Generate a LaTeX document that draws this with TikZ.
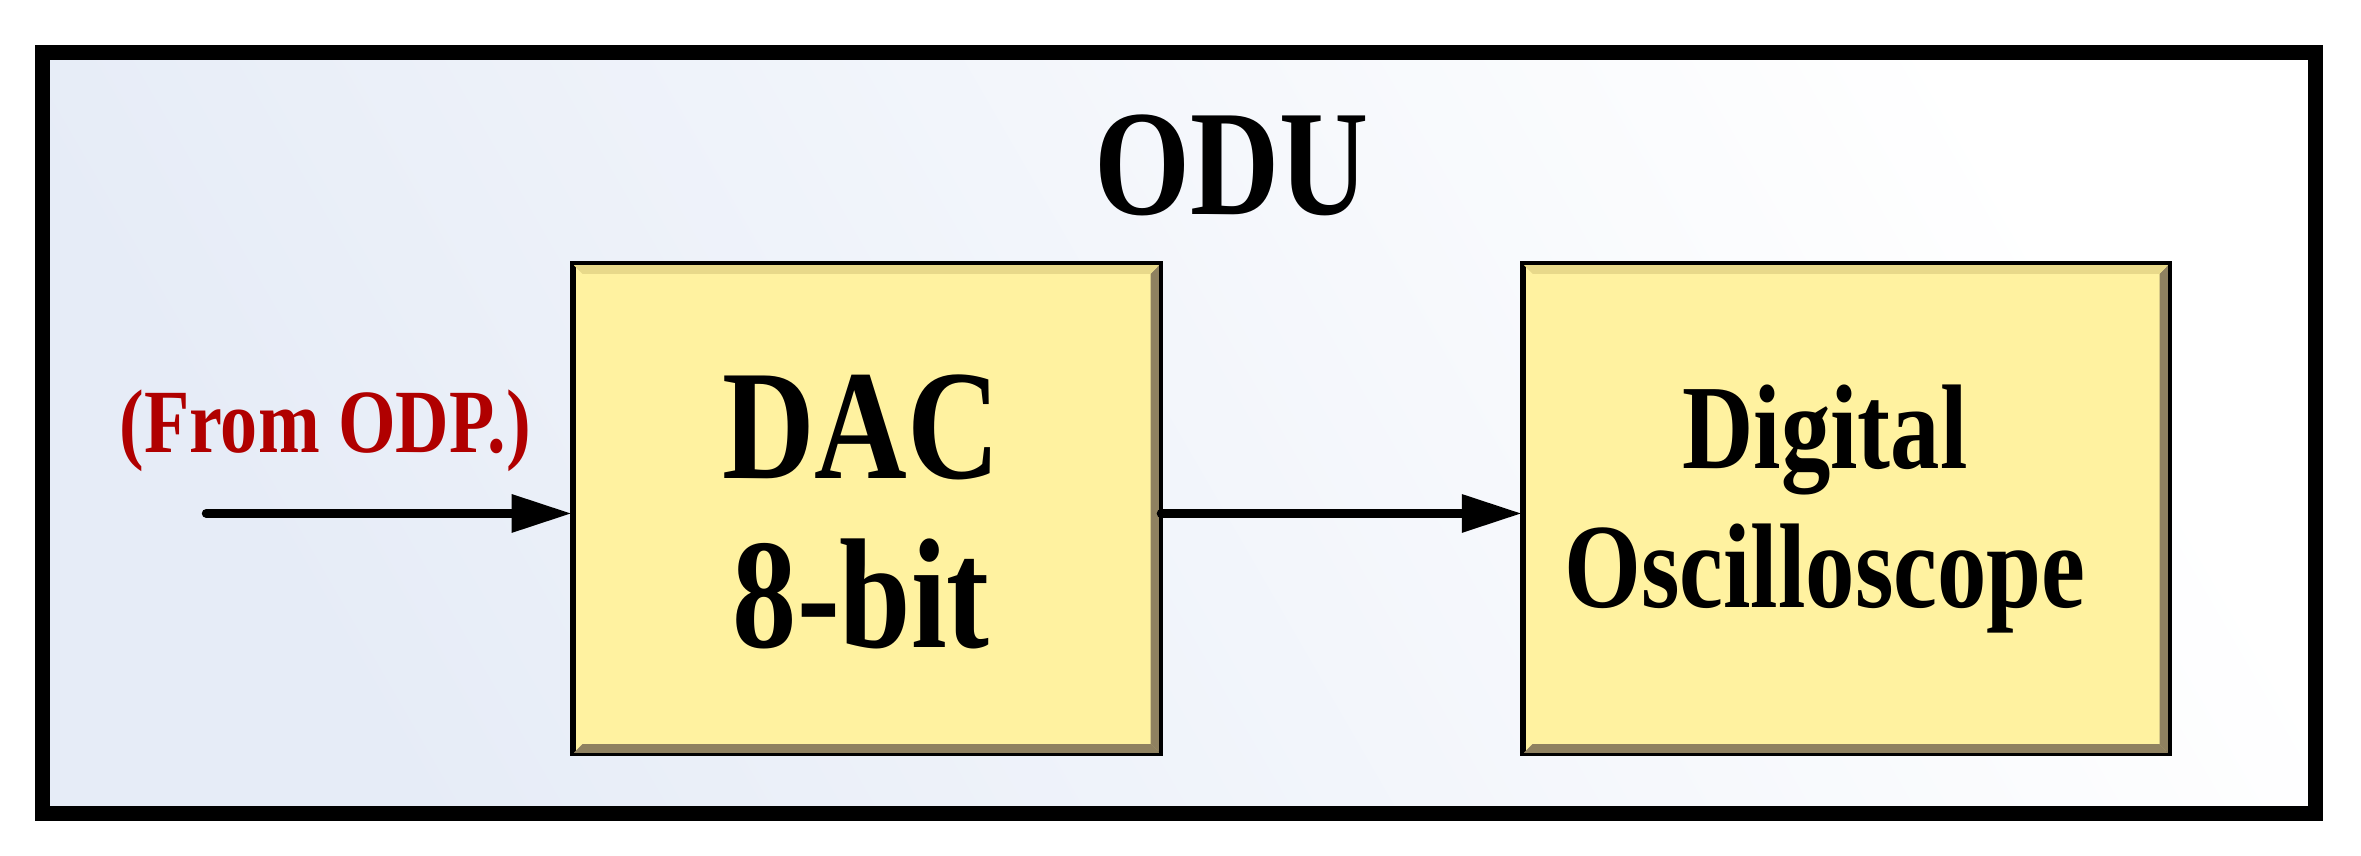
\documentclass[tikz,border=0pt]{standalone}
\usepackage{fontspec}
\setmainfont{Liberation Serif}[BoldFont={Liberation Serif Bold},FakeStretch=0.82]
\usetikzlibrary{arrows.meta}
\definecolor{boxfill}{HTML}{FFF2A0}
\definecolor{bevel}{HTML}{8F8160}
\definecolor{bevellt}{HTML}{E8D98A}
\definecolor{bgblue}{HTML}{E6ECF7}
\definecolor{odpred}{HTML}{B00000}
\tikzset{
  x=0.5pt,y=-0.5pt,
  blk/.style={draw=black,line width=1.2pt,fill=boxfill,inner sep=0pt},
  conn/.style={line width=3pt,line cap=round,-{Triangle[length=20pt,width=12pt]}},
  lbl/.style={font=\bfseries,align=center,inner sep=0pt}
}
\begin{document}
\begin{tikzpicture}
\useasboundingbox (0,0) rectangle (1568,568);
\fill[white] (0,0) rectangle (1568,568);
\shade[left color=bgblue,right color=white,shading angle=120] (28,35) rectangle (1538,540);
\draw[line width=5pt] (28,35) rectangle (1538,540);
\node[lbl,font=\bfseries\fontsize{50}{52}\selectfont] (odu) at (818,110) {ODU};
% DAC box
\node[blk,minimum width=194.5pt,minimum height=162pt] (dac) at (575.5,338) {};
\fill[bevel] (dac.north east) -- ++(-7,7) -- ([shift={(-7,-7)}]dac.south east) -- (dac.south east) -- cycle;
\fill[bevel] (dac.south west) -- ++(7,-7) -- ([shift={(-7,-7)}]dac.south east) -- (dac.south east) -- cycle;
\fill[bevellt] (dac.north west) -- ++(7,7) -- ([shift={(-7,7)}]dac.north east) -- (dac.north east) -- cycle;
\draw[line width=1.2pt] (dac.north west) rectangle (dac.south east);
\node[lbl,font=\bfseries\fontsize{52}{56}\selectfont] (dact) at (572,340) {DAC\\8-bit};
% Osc box
\node[blk,minimum width=214pt,minimum height=162pt] (osc) at (1226,338) {};
\fill[bevel] (osc.north east) -- ++(-7,7) -- ([shift={(-7,-7)}]osc.south east) -- (osc.south east) -- cycle;
\fill[bevel] (osc.south west) -- ++(7,-7) -- ([shift={(-7,-7)}]osc.south east) -- (osc.south east) -- cycle;
\fill[bevellt] (osc.north west) -- ++(7,7) -- ([shift={(-7,7)}]osc.north east) -- (osc.north east) -- cycle;
\draw[line width=1.2pt] (osc.north west) rectangle (osc.south east);
\node[lbl,font=\bfseries\fontsize{40}{46}\selectfont] (osct) at (1212,338) {Digital\\Oscilloscope};
% input
\node[lbl,text=odpred,font=\bfseries\fontsize{30}{32}\selectfont] (odp) at (216,286) {(From ODP.)};
\coordinate (in) at (137,341);
\draw[conn] (in) -- (in -| dac.west);
\draw[conn] (dac.east |- 0,341) -- (osc.west |- 0,341);
\end{tikzpicture}
\end{document}
